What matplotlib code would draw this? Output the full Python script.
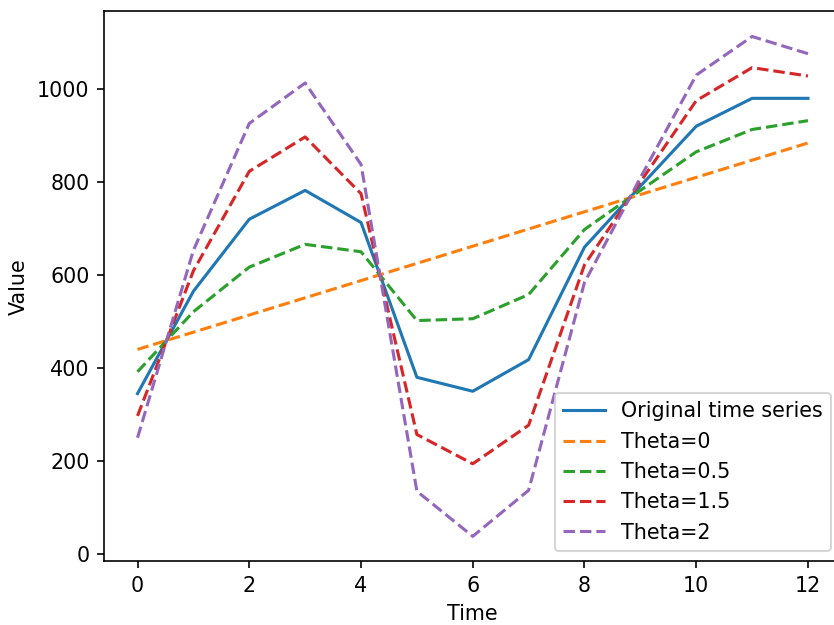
import matplotlib
matplotlib.use('Agg')
import matplotlib.pyplot as plt

time = list(range(13))
original = [345, 565, 720, 782, 713, 380, 350, 418, 660, 791, 920, 980, 980]
theta_0 = [440, 477, 514, 551, 588, 625, 662, 699, 736, 773, 810, 847, 884]
theta_05 = [392, 521, 617, 666, 650, 502, 506, 558, 698, 782, 865, 913, 932]
theta_15 = [297, 609, 823, 897, 775, 257, 194, 277, 622, 800, 975, 1046, 1028]
theta_2 = [250, 653, 926, 1013, 838, 135, 38, 137, 584, 809, 1030, 1113, 1076]

dpi = 148.7
fig = plt.figure(figsize=(834 / dpi, 625 / dpi), dpi=dpi)
# axes run a little past the right edge, as in the cropped original
ax = fig.add_axes([0.1247, 0.1019, 0.8843, 0.8797])
ax.plot(time, original, label='Original time series')
ax.plot(time, theta_0, '--', label='Theta=0')
ax.plot(time, theta_05, '--', label='Theta=0.5')
ax.plot(time, theta_15, '--', label='Theta=1.5')
ax.plot(time, theta_2, '--', label='Theta=2')

ax.set_xlabel('Time')
ax.set_ylabel('Value')
ax.legend(loc='lower right')

plt.savefig('out.png', dpi=dpi)
